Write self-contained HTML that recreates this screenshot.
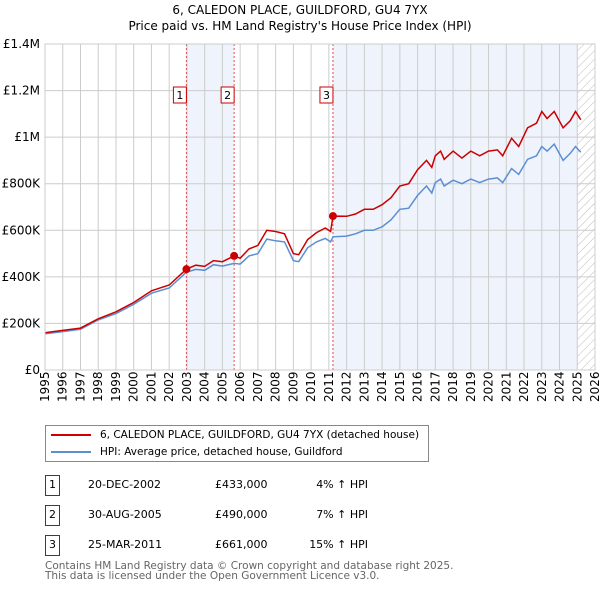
<!DOCTYPE html>
<html><head><meta charset="utf-8"><style>
body{margin:0;background:#fff;font-family:"DejaVu Sans","Liberation Sans",sans-serif;}
#wrap{position:relative;width:600px;height:590px;overflow:hidden}
.t{position:absolute;font-size:12px;color:#000;white-space:nowrap}
</style></head><body><div id="wrap">
<div class="t" style="left:0;width:600px;text-align:center;top:2px;font-size:12px;line-height:16px">6, CALEDON PLACE, GUILDFORD, GU4 7YX<br>Price paid vs. HM Land Registry's House Price Index (HPI)</div>
<svg id="chart" width="600" height="420" style="position:absolute;left:0;top:0"></svg>
<div style="position:absolute;left:45px;top:425px;width:382px;height:35px;border:1px solid #888;">
<div style="position:absolute;left:5px;top:3px;font-size:10.5px;white-space:nowrap"><span style="display:inline-block;width:40px;height:2px;background:#cc0000;vertical-align:middle;margin-right:9px"></span>6, CALEDON PLACE, GUILDFORD, GU4 7YX (detached house)</div>
<div style="position:absolute;left:5px;top:20px;font-size:10.5px;white-space:nowrap"><span style="display:inline-block;width:40px;height:2px;background:#5b8fd1;vertical-align:middle;margin-right:9px"></span>HPI: Average price, detached house, Guildford</div>
</div>
<div id="tbl"></div>
<div class="t" style="left:45px;top:561px;font-size:10.5px;color:#666;line-height:10px">Contains HM Land Registry data © Crown copyright and database right 2025.<br>This data is licensed under the Open Government Licence v3.0.</div>
</div>
<script>
const dates=[1995,1996,1997,1998,1999,2000,2001,2002,2002.97,2003.5,2004,2004.5,2005,2005.66,2006,2006.5,2007,2007.5,2008,2008.5,2009,2009.3,2009.8,2010.3,2010.8,2011.1,2011.23,2012,2012.5,2013,2013.5,2014,2014.5,2015,2015.5,2016,2016.5,2016.8,2017,2017.3,2017.5,2018,2018.5,2019,2019.5,2020,2020.5,2020.8,2021.3,2021.7,2022.2,2022.7,2023,2023.3,2023.7,2024.2,2024.6,2024.9,2025.2];
const priceK=[160,170,180,220,250,290,340,365,433,450,445,470,465,490,480,520,535,600,595,585,500,495,560,590,610,595,661,660,670,690,690,710,740,790,800,860,900,870,920,940,905,940,910,940,920,940,945,920,995,960,1040,1060,1110,1080,1110,1040,1070,1110,1075];
const hpiK=[156,165,175,215,242,282,330,352,420,432,428,452,446,458,455,490,500,562,555,550,470,465,525,550,565,550,572,575,585,600,600,615,645,690,695,750,790,760,805,820,790,815,800,820,805,820,825,805,865,840,905,920,960,940,970,900,930,960,935];
const saleDates=[2002.97,2005.66,2011.23];
const salePriceK=[433,490,661];
const saleLabels=["1","2","3"];
const yTicks=[0,200,400,600,800,1000,1200,1400];
const yTickLabels=["£0","£200K","£400K","£600K","£800K","£1M","£1.2M","£1.4M"];
const saleRows=[["20-DEC-2002","£433,000","4% ↑ HPI"],["30-AUG-2005","£490,000","7% ↑ HPI"],["25-MAR-2011","£661,000","15% ↑ HPI"]];
const X0=45,X1=595,Y0=370,Y1=44,T0=1995,T1=2026,YMAX=1400,HATCH=2025.0;
const FF='DejaVu Sans,Liberation Sans,sans-serif';
const xs=t=>X0+(t-T0)/(T1-T0)*(X1-X0);
const ys=v=>Y0-v/YMAX*(Y0-Y1);
const svg=document.getElementById('chart');const NS='http://www.w3.org/2000/svg';
function mk(tag,at,name){const e=document.createElementNS(NS,tag);for(const k in at)e.setAttribute(k,at[k]);


svg.appendChild(e);return e;}
let defs=document.createElementNS(NS,'defs');defs.innerHTML='<pattern id="h" width="6" height="6" patternUnits="userSpaceOnUse" patternTransform="rotate(45)"><line x1="0" y1="0" x2="0" y2="6" stroke="#bbb" stroke-width="1"/></pattern>';svg.appendChild(defs);
mk('rect',{x:xs(saleDates[0]),y:Y1,width:xs(saleDates[1])-xs(saleDates[0]),height:Y0-Y1,fill:'#eef3fc'},'shade-1');
mk('rect',{x:xs(saleDates[2]),y:Y1,width:xs(HATCH)-xs(saleDates[2]),height:Y0-Y1,fill:'#eef3fc'},'shade-3');
mk('rect',{x:xs(HATCH),y:Y1,width:X1-xs(HATCH),height:Y0-Y1,fill:'url(#h)'},'forecast-hatch');
for(let yr=T0;yr<=T1;yr++){mk('line',{x1:xs(yr),x2:xs(yr),y1:Y1,y2:Y0,stroke:'#ccc'},'x-grid');
const tx=mk('text',{x:0,y:0,transform:`translate(${xs(yr)+4},${Y0+32}) rotate(-90)`,'font-size':12,'font-family':FF},'x-tick-label');tx.textContent=yr;}
yTicks.forEach((v,i)=>{mk('line',{x1:X0,x2:X1,y1:ys(v),y2:ys(v),stroke:'#ccc'},'y-grid');
const tx=mk('text',{x:X0-5,y:ys(v)+4,'text-anchor':'end','font-size':12,'font-family':FF},'y-tick-label');tx.textContent=yTickLabels[i];});
saleDates.forEach((d,i)=>{mk('line',{x1:xs(d),x2:xs(d),y1:Y1,y2:Y0,stroke:'#e05050','stroke-dasharray':'2,2'},'sale-line');
mk('rect',{x:xs(d)-13,y:87,width:13,height:16,fill:'#fff',stroke:'#cc0000'},'sale-marker-box');
const tx=mk('text',{x:xs(d)-6.5,y:99,'text-anchor':'middle','font-size':11,'font-family':FF},'sale-marker-label');tx.textContent=saleLabels[i];});
const pth=a=>a.map((v,i)=>(i?'L':'M')+xs(dates[i]).toFixed(1)+','+ys(v).toFixed(1)).join('');
mk('path',{d:pth(hpiK),fill:'none',stroke:'#5b8fd1','stroke-width':1.5},'hpi-line');
mk('path',{d:pth(priceK),fill:'none',stroke:'#cc0000','stroke-width':1.5},'price-line');
saleDates.forEach((d,i)=>mk('circle',{cx:xs(d),cy:ys(salePriceK[i]),r:4,fill:'#cc0000'},'sale-point'));
mk('rect',{x:X0,y:Y1,width:X1-X0,height:Y0-Y1,fill:'none',stroke:'#ccc'},'plot-frame');
const tbl=document.getElementById('tbl');
saleRows.forEach((r,i)=>{const top=476+i*30;const row=document.createElement('div');


row.style.cssText=`position:absolute;left:0;top:${top}px;width:600px;height:20px;font-size:11px`;
row.innerHTML=`<div style="position:absolute;left:45px;top:-1px;width:13px;height:19px;border:1px solid #cc0000;text-align:center;line-height:17px">${saleLabels[i]}</div><div style="position:absolute;left:88px;top:2px">${r[0]}</div><div style="position:absolute;left:215px;top:2px">${r[1]}</div><div style="position:absolute;right:232px;top:2px">${r[2]}</div>`;
tbl.appendChild(row);});
</script></body></html>
